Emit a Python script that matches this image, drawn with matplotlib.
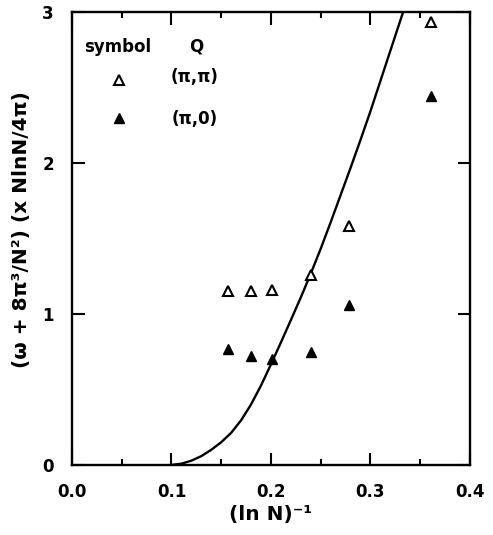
import matplotlib.pyplot as plt
from matplotlib.ticker import MultipleLocator

# data
inv_lnN_open = [0.157, 0.180, 0.201, 0.240, 0.279, 0.361]
val_open = [1.15, 1.15, 1.16, 1.26, 1.58, 2.93]

inv_lnN_filled = [0.157, 0.180, 0.201, 0.240, 0.279, 0.361]
val_filled = [0.77, 0.72, 0.70, 0.75, 1.06, 2.44]

# theory curve, points
curve_x = [0.100, 0.110, 0.120, 0.130, 0.140, 0.150, 0.160, 0.170, 0.180,
           0.190, 0.200, 0.210, 0.220, 0.230, 0.240, 0.250, 0.260, 0.270,
           0.280, 0.290, 0.300, 0.310, 0.320, 0.333]
curve_y = [0.000, 0.008, 0.028, 0.058, 0.100, 0.150, 0.212, 0.295, 0.400,
           0.525, 0.665, 0.810, 0.958, 1.108, 1.265, 1.430, 1.605, 1.785,
           1.965, 2.150, 2.340, 2.540, 2.740, 3.000]

plt.rcParams['font.family'] = ['DejaVu Sans']
plt.rcParams['font.weight'] = 'bold'

fig = plt.figure(figsize=(4.93, 5.35), dpi=100)
ax = fig.add_axes([0.146, 0.131, 0.807, 0.847])

ax.plot(curve_x, curve_y, color='black', lw=1.7)
ax.plot(inv_lnN_open, val_open, ls='none', marker='^', ms=6.5,
        mfc='white', mec='black', mew=1.5)
ax.plot(inv_lnN_filled, val_filled, ls='none', marker='^', ms=7,
        mfc='black', mec='black')

# legend drawn as text block
ax.text(0.046, 2.77, 'symbol', ha='center', va='center', fontsize=12, fontweight='bold')
ax.text(0.125, 2.77, 'Q', ha='center', va='center', fontsize=12, fontweight='bold')
ax.plot([0.047], [2.55], ls='none', marker='^', ms=6.5, mfc='white', mec='black', mew=1.5)
ax.plot([0.047], [2.30], ls='none', marker='^', ms=7, mfc='black', mec='black')
ax.text(0.123, 2.57, '(π,π)', ha='center', va='center', fontsize=12, fontweight='bold')
ax.text(0.123, 2.29, '(π,0)', ha='center', va='center', fontsize=12, fontweight='bold')

ax.set_xlim(0, 0.4)
ax.set_ylim(0, 3)
ax.xaxis.set_major_locator(MultipleLocator(0.1))
ax.xaxis.set_minor_locator(MultipleLocator(0.05))
ax.yaxis.set_major_locator(MultipleLocator(1))
ax.xaxis.set_major_formatter(plt.FormatStrFormatter('%.1f'))
ax.tick_params(which='both', direction='in', top=True, right=True, width=1.5,
               labelsize=12, pad=13)
ax.tick_params(which='major', length=9)
ax.tick_params(which='minor', length=4)
for s in ax.spines.values():
    s.set_linewidth(1.7)

ax.set_xlabel('(ln N)⁻¹', fontsize=14.5, fontweight='bold', labelpad=3)
ax.set_ylabel('(ω + 8π³/N²) (x NlnN/4π)', fontsize=14.5, fontweight='bold')
ax.yaxis.set_label_coords(-0.103, 0.52)

plt.savefig('out.png', dpi=100)
